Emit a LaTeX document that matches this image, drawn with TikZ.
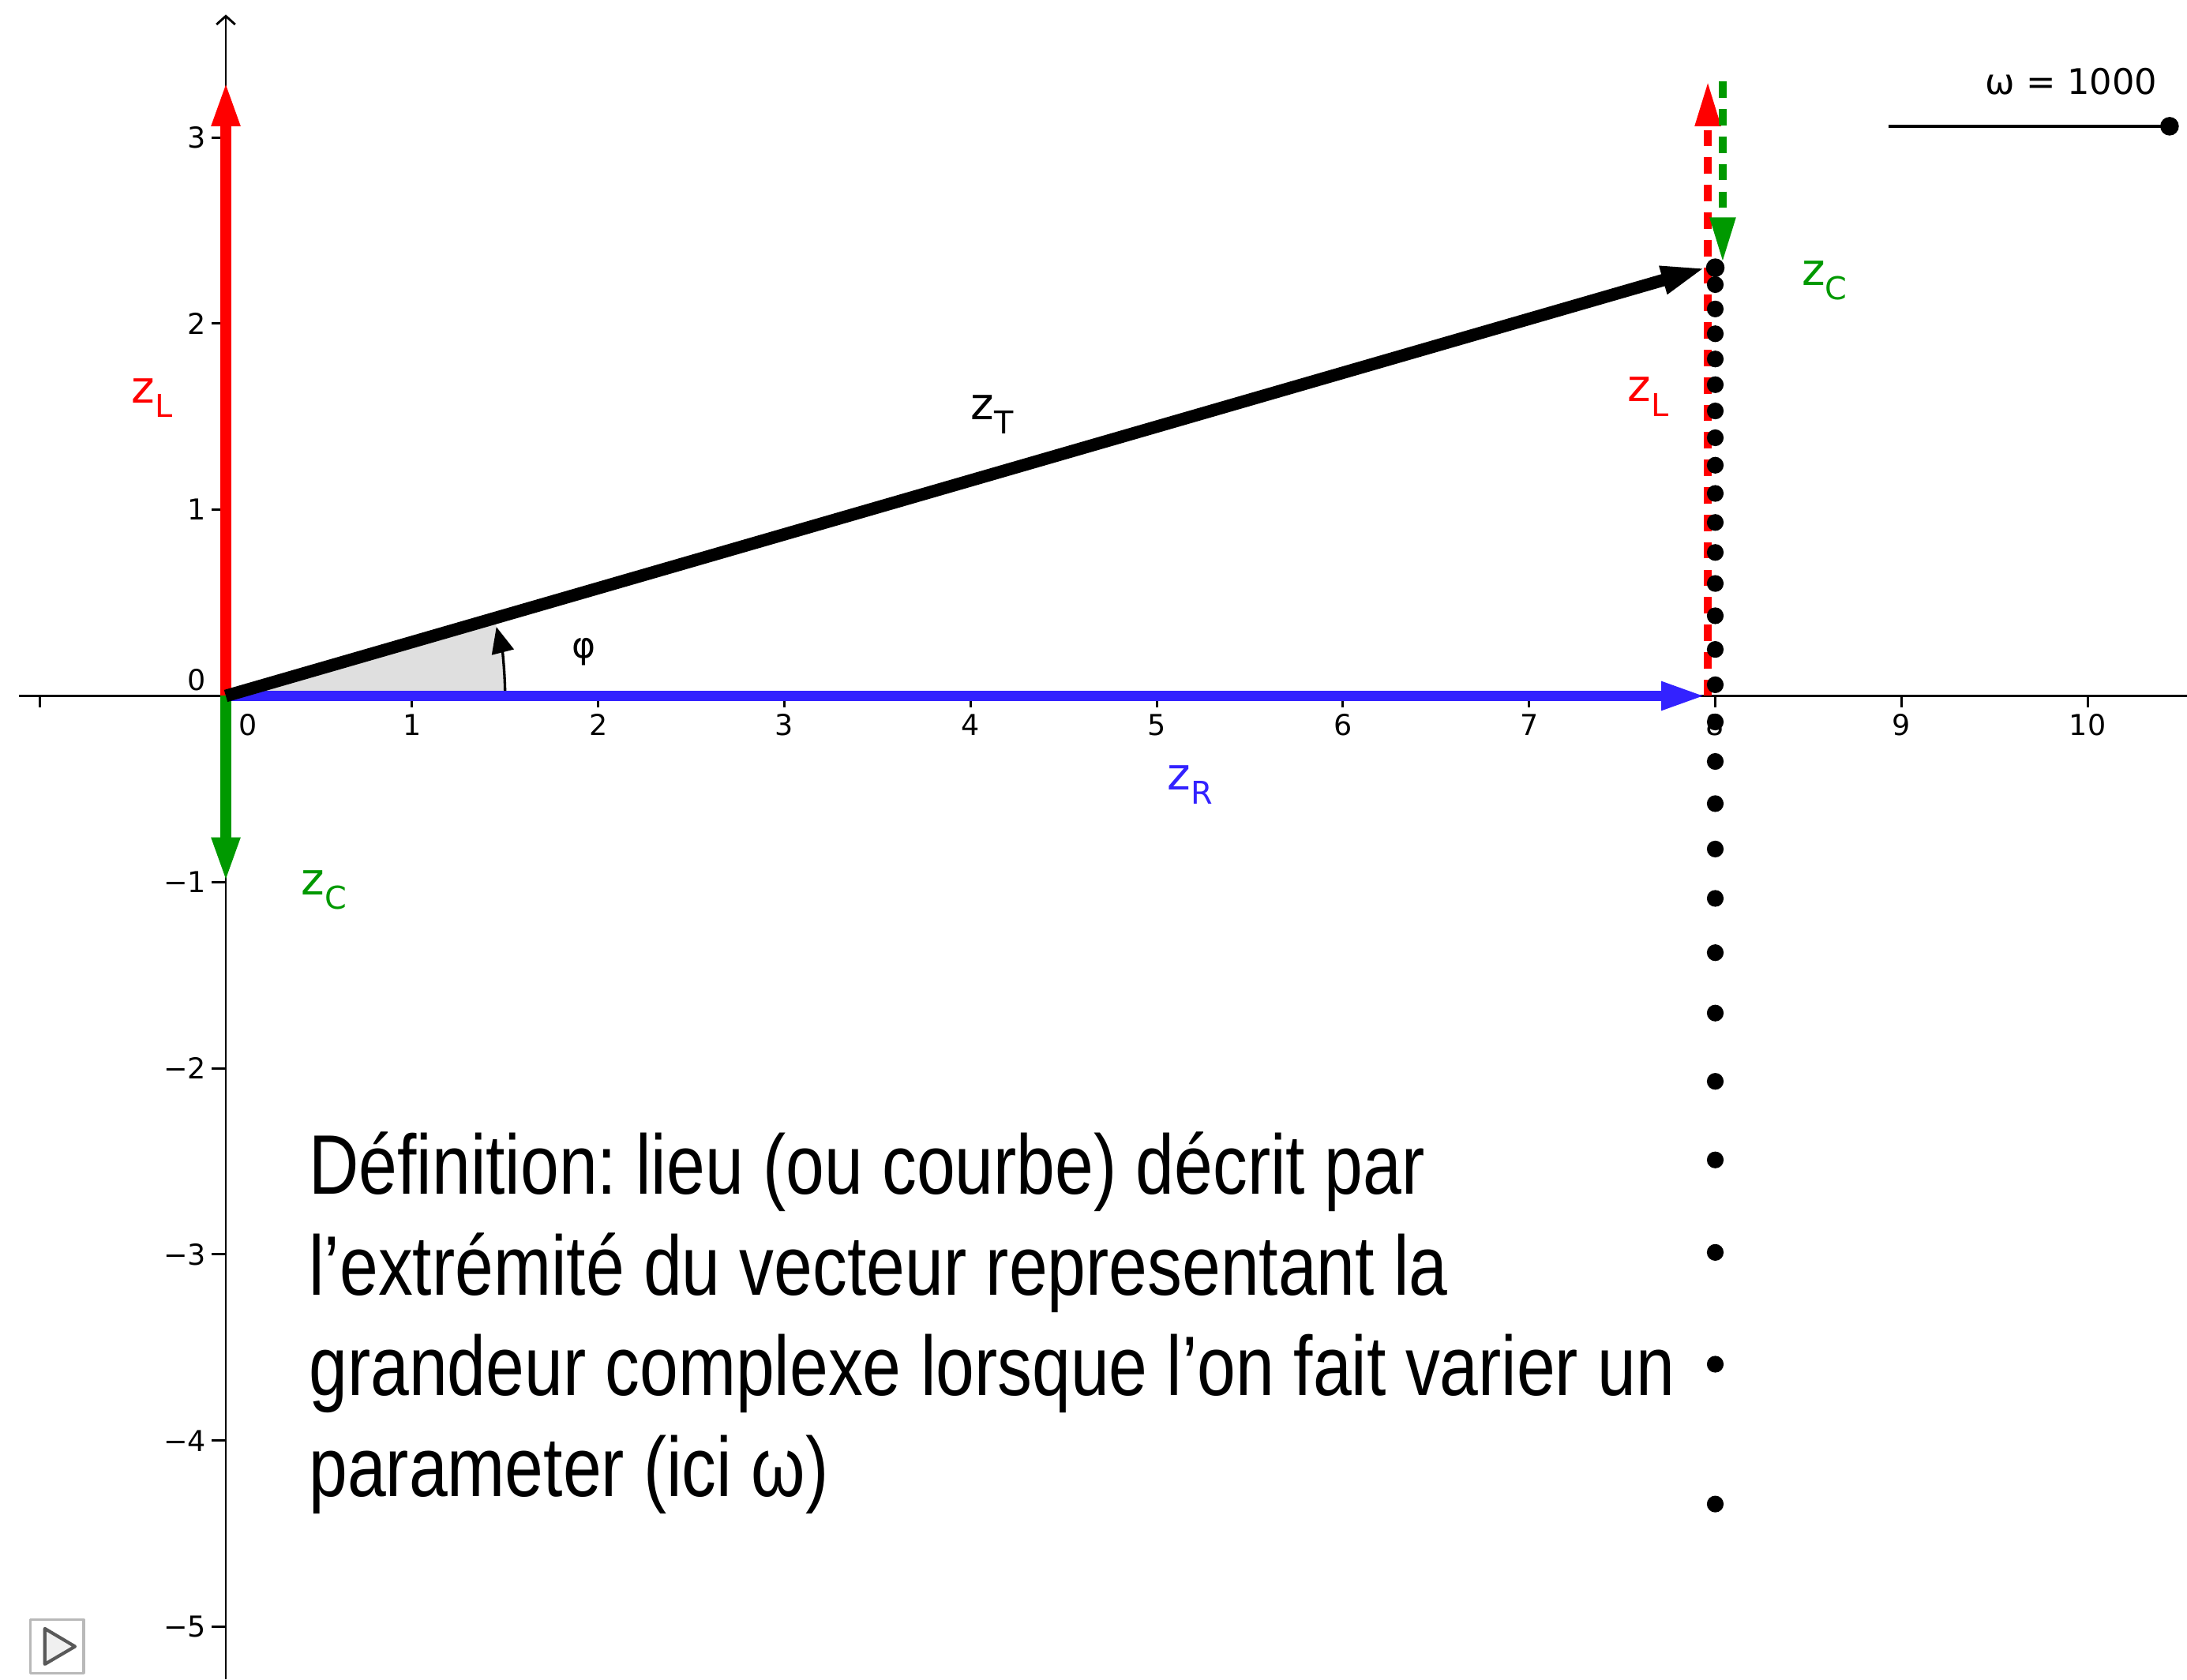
\documentclass[tikz,border=0pt]{standalone}
\usepackage{fontspec}
\setmainfont{DejaVu Sans}
\newfontfamily\narrowfont[FakeStretch=0.82]{Liberation Sans}
\usetikzlibrary{arrows.meta}
\definecolor{zred}{RGB}{255,0,0}
\definecolor{zgreen}{RGB}{0,153,0}
\definecolor{zblue}{RGB}{51,34,255}
\definecolor{sectorgray}{RGB}{223,223,223}
\newcommand{\zsub}[1]{z\raisebox{-2.2pt}{\fontsize{4.8}{5}\selectfont #1}}
\frenchspacing

\begin{document}
\begin{tikzpicture}[line join=round,
  vec/.style={line width=1.6pt, -{Triangle[length=2.4mm,width=1.4mm]}},
  dvec/.style={line width=1.15pt, dash pattern=on 2.5pt off 1.7pt, -{Triangle[length=2.4mm,width=1.3mm]}},
  lab/.style={anchor=base west, inner sep=0, font=\fontsize{6.8}{8}\selectfont},
  ticklab/.style={inner sep=0, font=\fontsize{4.4}{5}\selectfont},
  axis/.style={line width=.35pt}]
  \useasboundingbox (-1.2129,-5.282) rectangle (10.534,3.7383);

  \coordinate (O)  at (0,0);
  \coordinate (R)  at (7.95,0);
  \coordinate (L)  at (0,3.3);
  \coordinate (C)  at (0,-1);
  \coordinate (T)  at (7.95,2.3);
  \coordinate (L0) at (7.96,0);
  \coordinate (L1) at (7.96,3.3);
  \coordinate (C0) at (8.04,3.3);
  \coordinate (C1) at (8.04,2.33);
  \coordinate (A0) at (1.5,0);
  \coordinate (S0) at (8.93,3.06);
  \coordinate (S1) at (10.44,3.06);

  \fill[sectorgray] (O) -- (A0) arc[start angle=0, end angle=16.04, radius=1.5] -- cycle;

  \draw[axis] (-1.11,0) -- (10.534,0);
  \draw[axis, -{Straight Barb[length=.45mm,width=1mm]}] (0,-5.282) -- (0,3.66);
  \foreach \x in {-1,1,2,...,10} \draw[axis] (\x,0) -- (\x,-.06);
  \foreach \y in {-5,...,-1,1,2,3} \draw[axis] (0,\y) -- (-.075,\y);
  \node[ticklab] (x0) at (.12,-.155) {0};
  \foreach \x in {1,...,10} \node[ticklab] (x\x) at (\x,-.155) {\x};
  \node[ticklab, anchor=east] (y0) at (-.1,.084) {0};
  \foreach \y in {1,2,3} \node[ticklab, anchor=east] (y\y) at (-.1,\y) {\y};
  \foreach \y in {1,...,5} \node[ticklab, anchor=east] (ym\y) at (-.1,-\y) {−\y};

  \draw[line width=.4pt, -{Triangle[length=1.4mm,width=1.2mm]}] (A0) arc[start angle=0, end angle=14.3, radius=1.5];

  \draw[vec, zblue] (O) -- (R);
  \draw[vec, zred] (O) -- (L);
  \draw[vec, zgreen] (O) -- (C);
  \draw[vec, line width=1.9pt] (O) -- (T);
  \draw[dvec, zred] (L0) -- (L1);
  \draw[dvec, zgreen] (C0) -- (C1);

  \foreach \w in {200,230,...,980}
    \fill (8,{0.0033*\w-1000/\w}) circle[radius=.045];
  \fill (8,2.3) circle[radius=.05];

  \node[lab, zred] (zL) at (-.512,1.575) {\zsub{L}};
  \node[lab, zred] (zL2) at (7.523,1.58) {\zsub{L}};
  \node[lab, zgreen] (zC) at (.399,-1.067) {\zsub{C}};
  \node[lab, zgreen] (zC2) at (8.458,2.205) {\zsub{C}};
  \node[lab] (zT) at (3.995,1.486) {\zsub{T}};
  \node[lab, zblue] (zR) at (5.05,-.503) {\zsub{R}};
  \node[inner sep=0, font=\fontsize{5.5}{6}\selectfont] (phi) at (1.925,.235) {φ};

  \draw[line width=.45pt] (S0) -- (S1);
  \fill (S1) circle[radius=.05];
  \node[anchor=east, inner sep=0, font=\fontsize{5.4}{6}\selectfont] (omega) at (10.38,3.30) {ω = 1000};

  \node[anchor=base west, align=left, inner sep=0, font=\narrowfont\fontsize{12.9}{15.39}\selectfont] (def) at (.44,-4.30)
    {Définition: lieu (ou courbe) décrit par\\ l’extrémité du vecteur representant la\\ grandeur complexe lorsque l’on fait varier un\\ parameter (ici ω)};

  \draw[line width=.4pt, draw=gray!55] (-1.05,-4.963) rectangle (-.763,-5.249);
  \draw[line width=.5pt, draw=gray!70!black, fill=gray!12] (-.972,-5.01) -- (-.972,-5.201) -- (-.81,-5.106) -- cycle;
\end{tikzpicture}
\end{document}
